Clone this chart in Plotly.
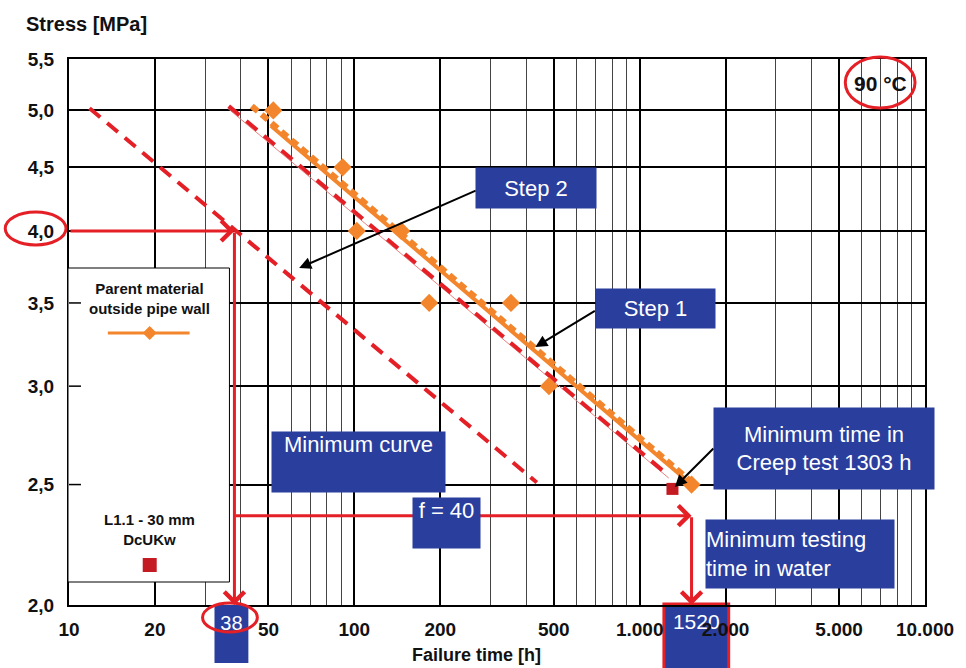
import numpy as np
import plotly.graph_objects as go

# ---------------- data ----------------
x_major = [10, 20, 50, 100, 200, 500, 1000, 2000, 5000, 10000]
x_major_text = ["10", "20", "50", "100", "200", "500", "1.000", "2.000", "5.000", "10.000"]
x_minor = [30, 40, 60, 70, 80, 90, 300, 400, 600, 700, 800, 900,
           3000, 4000, 6000, 7000, 8000, 9000]
y_ticks = [2.0, 2.5, 3.0, 3.5, 4.0, 4.5, 5.0, 5.5]
y_tick_text = ["2,0", "2,5", "3,0", "3,5", "4,0", "4,5", "5,0", "5,5"]

# parent material outside pipe wall (measured failures)
parent_time = [52, 91, 102, 146, 183, 354, 481, 1520]
parent_stress = [5.0, 4.5, 4.0, 4.0, 3.5, 3.5, 3.0, 2.5]

# mean regression curve and upper band
mean_time = [51, 1520]
mean_stress = [4.86, 2.50]
upper_time = [43.7, 1590]
upper_stress = [5.04, 2.49]

# Step 1 (lower limit curve) and thin lower confidence line
step1_time = [36.3, 1243]
step1_stress = [5.04, 2.55]
lcl_time = [36.0, 1265]
lcl_stress = [5.02, 2.53]

# Step 2 (minimum curve)
step2_time = [11.8, 436]
step2_stress = [5.02, 2.51]

# L1.1 - 30 mm DcUKw specimen
spec_time = [1303]
spec_stress = [2.48]

# reading of the minimum curve
ref_stress = 4.0
t_min = 38
f_factor = 40
t_water = 1520
read_stress = 2.36
axis_t_min = 10
axis_s_min = 2.0

ORANGE = "#f3862c"
RED = "#e41f26"
BLUE = "#2a3e9e"
FONT = "Liberation Sans, Arial, sans-serif"

fig = go.Figure()

fig.add_trace(go.Scatter(x=lcl_time, y=lcl_stress, mode="lines",
                         line=dict(color="#e88080", width=1)))
fig.add_trace(go.Scatter(x=step1_time, y=step1_stress, mode="lines",
                         line=dict(color=RED, width=4, dash="14px,9px")))
fig.add_trace(go.Scatter(x=step2_time, y=step2_stress, mode="lines",
                         line=dict(color=RED, width=4, dash="14px,9px")))
fig.add_trace(go.Scatter(x=upper_time, y=upper_stress, mode="lines",
                         line=dict(color=ORANGE, width=6, dash="8px,5px")))
fig.add_trace(go.Scatter(x=mean_time, y=mean_stress, mode="lines",
                         line=dict(color=ORANGE, width=4)))
fig.add_trace(go.Scatter(x=parent_time, y=parent_stress, mode="markers",
                         marker=dict(symbol="diamond", size=14, color=ORANGE)))
fig.add_trace(go.Scatter(x=spec_time, y=spec_stress, mode="markers",
                         marker=dict(symbol="square", size=12, color="#c41a22")))


def px_x(p):
    return (p - 69) / 859.0


def px_y(p):
    return (605 - p) / 546.0


shapes = []
# legend box
shapes.append(dict(type="rect", xref="paper", yref="paper", layer="above",
                   x0=px_x(68), x1=px_x(230), y0=px_y(582), y1=px_y(268),
                   fillcolor="white", line=dict(color="black", width=1)))
# y ticks visible over legend box
for v in [2.5, 3.0, 3.5]:
    shapes.append(dict(type="line", xref="paper", yref="y", layer="above",
                       x0=0, x1=px_x(81), y0=v, y1=v,
                       line=dict(color="black", width=1.5)))
# legend sample line
shapes.append(dict(type="line", xref="paper", yref="paper", layer="above",
                   x0=px_x(108), x1=px_x(190), y0=px_y(333), y1=px_y(333),
                   line=dict(color=ORANGE, width=3)))
shapes.append(dict(type="path", xref="paper", yref="paper", layer="above",
                   xsizemode="pixel", ysizemode="pixel",
                   xanchor=px_x(150), yanchor=px_y(333),
                   path="M0,7 L7,0 L0,-7 L-7,0 Z",
                   fillcolor=ORANGE, line=dict(width=0)))
shapes.append(dict(type="rect", xref="paper", yref="paper", layer="above",
                   xsizemode="pixel", ysizemode="pixel",
                   xanchor=px_x(150), yanchor=px_y(565),
                   x0=-7, x1=7, y0=-7, y1=7,
                   fillcolor="#c41a22", line=dict(width=0)))
# 1520 box (below the tick labels)
shapes.append(dict(type="rect", xref="paper", yref="paper", layer="below",
                   x0=px_x(666), x1=px_x(731), y0=px_y(680), y1=px_y(604),
                   fillcolor=BLUE, line=dict(color=RED, width=3),
                   label=dict(text=str(t_water), textposition="top center",
                              padding=4,
                              font=dict(color="white", size=21, family=FONT))))
# 38 box
shapes.append(dict(type="rect", xref="paper", yref="paper", layer="above",
                   x0=px_x(215), x1=px_x(249), y0=px_y(663), y1=px_y(605),
                   fillcolor=BLUE, line=dict(width=0),
                   label=dict(text=str(t_min), textposition="top center",
                              padding=5,
                              font=dict(color="white", size=20, family=FONT))))
# red ellipses
for (xa, xb, ya, yb) in [(5, 66, 245, 212), (203, 258, 632, 603), (848, 918, 108, 57)]:
    shapes.append(dict(type="circle", xref="paper", yref="paper", layer="above",
                       x0=px_x(xa), x1=px_x(xb), y0=px_y(ya), y1=px_y(yb),
                       line=dict(color=RED, width=3)))

ann = []
lg = np.log10
# red reading arrows
red_arrows = [
    ((axis_t_min, ref_stress), (t_min, ref_stress)),
    ((t_min, ref_stress), (t_min, axis_s_min)),
    ((t_min, read_stress), (t_water, read_stress)),
    ((t_water, read_stress), (t_water, axis_s_min)),
]
for (tail, tip) in red_arrows:
    ann.append(dict(x=lg(tip[0]), y=lg(tip[1]), ax=lg(tail[0]), ay=lg(tail[1]),
                    xref="x", yref="y", axref="x", ayref="y", text="",
                    showarrow=True, arrowhead=4, arrowsize=1.3, arrowwidth=3,
                    arrowcolor=RED, standoff=0))

# black pointer arrows (tip in paper, tail offset in px)
for (tipx, tipy, dx, dy) in [(300, 268, 178, -78), (537, 347, 61, -37), (677, 487, 40, -40)]:
    ann.append(dict(x=px_x(tipx), y=px_y(tipy), xref="paper", yref="paper",
                    ax=dx, ay=dy, text="", showarrow=True, arrowhead=2,
                    arrowsize=1.2, arrowwidth=2, arrowcolor="black", standoff=0))


def box(text, x0, x1, y0, y1, valign="middle", align="center"):
    return dict(text=text, xref="paper", yref="paper",
                x=px_x((x0 + x1) / 2), y=px_y((y0 + y1) / 2),
                xanchor="center", yanchor="middle",
                width=x1 - x0, height=y1 - y0, bgcolor=BLUE, borderpad=0,
                showarrow=False, valign=valign, align=align,
                font=dict(color="white", size=22, family=FONT))


ann.append(box("Step 2", 478, 598, 168, 208))
ann.append(box("Step 1", 598, 717, 289, 328))
ann.append(box("Minimum curve", 273, 446, 432, 492, valign="top"))
ann.append(box("f = " + str(f_factor), 414, 481, 498, 548, valign="top"))
ann.append(box("Minimum time in<br>Creep test 1303 h", 717, 937, 408, 489))
ann.append(box("Minimum testing<br>time in water", 709, 897, 520, 588, align="left"))


def label(text, cx, cy, size, xanchor="center"):
    return dict(text=text, xref="paper", yref="paper", x=px_x(cx), y=px_y(cy),
                xanchor=xanchor, yanchor="middle", showarrow=False,
                font=dict(size=size, family=FONT, color="#111", weight="bold"))


ann.append(label("Parent material<br>outside pipe wall", 150, 298, 15))
ann.append(label("L1.1 - 30 mm<br>DcUKw", 150, 529, 15))
ann.append(label("90 °C", 883, 84, 21))
ann.append(label("Stress [MPa]", 24, 24, 20, xanchor="left"))
ann.append(label("Failure time [h]", 478, 655, 18))

fig.update_layout(
    width=966, height=668,
    margin=dict(l=69, r=38, t=59, b=63),
    paper_bgcolor="white", plot_bgcolor="white",
    showlegend=False, hovermode=False,
    shapes=shapes, annotations=ann,
    xaxis=dict(type="log", range=[1, 4], tickmode="array",
               tickvals=x_major, ticktext=x_major_text,
               showgrid=True, gridcolor="black", gridwidth=2,
               showline=True, mirror=True, linecolor="black", linewidth=2,
               ticks="", ticklabelstandoff=6,
               tickfont=dict(size=19, family=FONT, color="#111", weight="bold"),
               minor=dict(tickmode="array", tickvals=x_minor, showgrid=True,
                          gridcolor="#444", gridwidth=1, ticks=""),
               zeroline=False),
    yaxis=dict(type="log", range=[np.log10(2.0), np.log10(5.5)], tickmode="array",
               tickvals=y_ticks, ticktext=y_tick_text,
               showgrid=True, gridcolor="black", gridwidth=2,
               showline=True, mirror=True, linecolor="black", linewidth=2,
               ticks="", ticklabelstandoff=9,
               tickfont=dict(size=19, family=FONT, color="#111", weight="bold"),
               zeroline=False),
)

fig.write_html("out.html", config={"displayModeBar": False},
               post_script="document.body.style.margin='0';document.body.style.overflow='hidden';")
